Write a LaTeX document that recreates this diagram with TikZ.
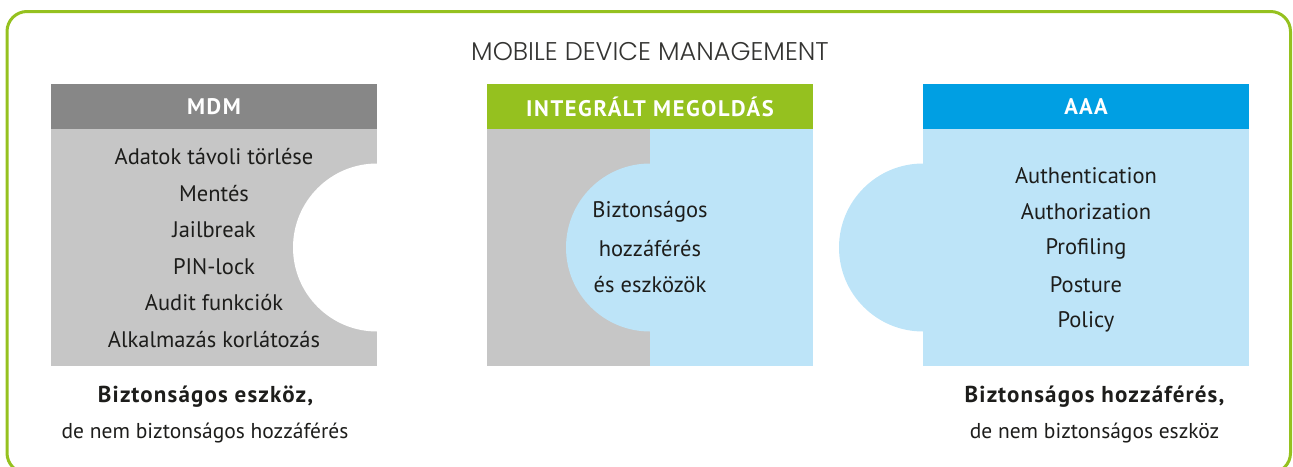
\documentclass[tikz,border=0pt]{standalone}
\usepackage{fontspec}
\setmainfont{PT Sans}
\newfontfamily\titlefont{Poppins Light}
\newfontfamily\hdrfont[LetterSpace=7]{PT Sans Bold}
\newfontfamily\capfont[LetterSpace=5]{PT Sans Bold}
\definecolor{limegreen}{HTML}{95C11F}
\definecolor{hdrgray}{HTML}{878787}
\definecolor{bodygray}{HTML}{C6C6C6}
\definecolor{hdrblue}{HTML}{009FE3}
\definecolor{lightblue}{HTML}{BDE4F8}
\definecolor{txt}{HTML}{1D1D1B}
\tikzset{
  hdr/.style={minimum width=326pt, minimum height=45pt, inner sep=0pt, text=white, font=\hdrfont\fontsize{22.5}{26}\selectfont},
  bodybox/.style={minimum width=326pt, minimum height=237pt, inner sep=0pt},
  item/.style={text=txt, font=\fontsize{22.5}{26}\selectfont, inner sep=0pt},
  capb/.style={text=txt, font=\capfont\fontsize{23}{26}\selectfont, inner sep=0pt},
  capn/.style={text=txt, font=\fontsize{21.5}{26}\selectfont, inner sep=0pt},
}
\begin{document}
\begin{tikzpicture}[x=1pt,y=-1pt]
\useasboundingbox (0,0) rectangle (1293,466);
% outer frame
\draw[limegreen, line width=3pt, rounded corners=20pt] (7,11.5) rectangle (1290.5,473);
\node[text=txt!90, font=\titlefont\fontsize{25.6}{28}\selectfont, inner sep=0pt] (title) at (650,52) {MOBILE DEVICE MANAGEMENT};
% MDM
\node[hdr, fill=hdrgray] (mdmh) at (214,106.5) {MDM};
\node[bodybox, fill=bodygray] (mdmb) at (214,247.5) {};
\begin{scope}
\clip (51,129) rectangle (377,366);
\fill[white] (377,247.5) circle[radius=84];
\end{scope}
\node[item] (m1) at (214,157) {Adatok távoli törlése};
\node[item] (m2) at (214,193.5) {Mentés};
\node[item] (m3) at (214,230) {Jailbreak};
\node[item] (m4) at (214,266.5) {PIN-lock};
\node[item] (m5) at (214,303) {Audit funkciók};
\node[item] (m6) at (214,339.5) {Alkalmazás korlátozás};
\node[capb] (mc1) at (205.5,397) {Biztonságos eszköz,};
\node[capn] (mc2) at (205,433) {de nem biztonságos hozzáférés};
% Integrált
\node[hdr, fill=limegreen] (inth) at (650,106.5) {INTEGRÁLT MEGOLDÁS};
\node[minimum width=163pt, minimum height=237pt, inner sep=0pt, fill=bodygray] (intl) at (568.5,247.5) {};
\node[minimum width=163pt, minimum height=237pt, inner sep=0pt, fill=lightblue] (intr) at (731.5,247.5) {};
\begin{scope}
\clip (487,129) rectangle (813,366);
\fill[lightblue] (650,247.5) circle[radius=84];
\end{scope}
\node[item] (i1) at (650,212) {Biztonságos};
\node[item] (i2) at (650,248.5) {hozzáférés};
\node[item] (i3) at (650,285) {és eszközök};
% AAA
\node[hdr, fill=hdrblue] (aaah) at (1086,106.5) {AAA};
\node[bodybox, fill=lightblue] (aaab) at (1086,247.5) {};
\fill[lightblue] (923,247.5) circle[radius=84];
\node[item] (a1) at (1086,175.5) {Authentication};
\node[item] (a2) at (1086,212) {Authorization};
\node[item] (a3) at (1086,248.5) {Profiling};
\node[item] (a4) at (1086,285) {Posture};
\node[item] (a5) at (1086,321.5) {Policy};
\node[capb] (ac1) at (1094.5,397) {Biztonságos hozzáférés,};
\node[capn] (ac2) at (1094.5,433) {de nem biztonságos eszköz};
\end{tikzpicture}
\end{document}
